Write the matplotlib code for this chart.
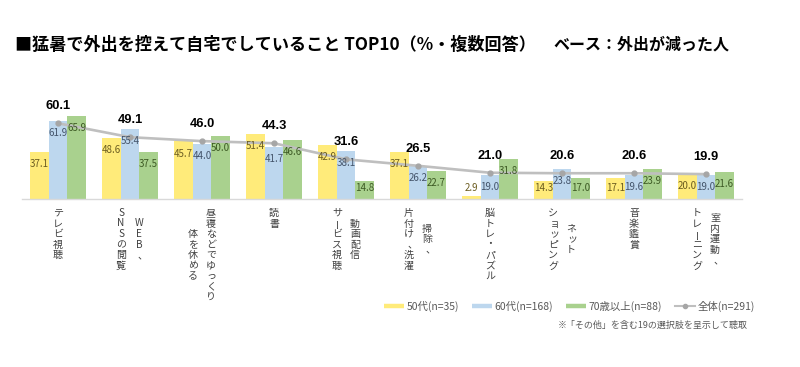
import numpy as np
import matplotlib
matplotlib.use("Agg")
import matplotlib.pyplot as plt
from matplotlib.lines import Line2D
from matplotlib.transforms import blended_transform_factory, offset_copy

plt.rcParams['font.family'] = ['Noto Sans CJK JP', 'DejaVu Sans']

# data (%)
categories = [
    ["テレビ視聴"],
    ["WEB、", "SNSの閲覧"],
    ["昼寝などでゆっくり", "体を休める"],
    ["読書"],
    ["動画配信", "サービス視聴"],
    ["掃除、", "片付け、洗濯"],
    ["脳トレ・パズル"],
    ["ネット", "ショッピング"],
    ["音楽鑑賞"],
    ["室内運動、", "トレーニング"],
]
age50 = [37.1, 48.6, 45.7, 51.4, 42.9, 37.1, 2.9, 14.3, 17.1, 20.0]
age60 = [61.9, 55.4, 44.0, 41.7, 38.1, 26.2, 19.0, 23.8, 19.6, 19.0]
age70 = [65.9, 37.5, 50.0, 46.6, 14.8, 22.7, 31.8, 17.0, 23.9, 21.6]
total = [60.1, 49.1, 46.0, 44.3, 31.6, 26.5, 21.0, 20.6, 20.6, 19.9]
series_names = ["50代(n=35)", "60代(n=168)", "70歳以上(n=88)", "全体(n=291)"]

bar_colors = ['#FFEB7A', '#BDD7EE', '#A9D18E']
label_colors = ['#6B5C20', '#44546A', '#3D5A24']
line_color = '#BFBFBF'

fig = plt.figure(figsize=(8, 3.67), dpi=100)
fig.patch.set_facecolor('white')
ax = fig.add_axes([22 / 800, (367 - 199.3) / 367, 0.9, 88.55 / 367])

x = np.arange(len(categories))
w = 0.257
for k, vals in enumerate([age50, age60, age70]):
    xs = x + (k - 1) * w
    ax.bar(xs, vals, width=w, color=bar_colors[k], edgecolor='none', zorder=2)
    for xi, v in zip(xs, vals):
        ax.text(xi, max(v - 9.5, 8.7), f"{v:.1f}", ha='center', va='center',
                fontsize=7, color=label_colors[k], zorder=4)

ax.plot(x, total, color=line_color, lw=1.9, marker='o', ms=3.5,
        mfc='#A6A6A6', mec='#A6A6A6', zorder=3)
for xi, v in zip(x, total):
    ax.text(xi, v + 13.4, f"{v:.1f}", ha='center', va='center', fontsize=9.3,
            fontweight='bold', family='Liberation Sans', color='black')

ax.set_xlim(-0.5, len(categories) - 0.5)
ax.set_ylim(0, 70)
for s in ['top', 'right', 'left']:
    ax.spines[s].set_visible(False)
ax.spines['bottom'].set_color('#D9D9D9')
ax.spines['bottom'].set_linewidth(1.0)
ax.set_xticks([])
ax.set_yticks([])

# vertical (tategaki) category labels, columns right to left
base = blended_transform_factory(ax.transData, ax.transAxes)
pitch = 10.5
col_gap = 18
for xi, cols in zip(x, categories):
    n = max(len(c) for c in cols)
    ncol = len(cols)
    for j, col in enumerate(cols):
        dx = (ncol - 1) / 2 * col_gap - j * col_gap
        start = 13.7 + (n - len(col)) * pitch / 2
        for i, ch in enumerate(col):
            dy = start + i * pitch
            ex, ey, rot = 0, 0, 0
            if ch == 'ー':
                rot = 90
            elif ch == '、':
                ex = 3
            elif ch in 'ッョャュ':
                ex = 1.5
            tr = offset_copy(base, fig=fig, x=dx + ex, y=-dy + ey, units='dots')
            ax.text(xi, 0, ch, transform=tr, ha='center', va='center',
                    fontsize=7.2, color='#404040', rotation=rot)

# title
fig.text(15 / 800, 1 - 45 / 367, "■猛暑で外出を控えて自宅でしていること TOP10（%・複数回答）",
         fontsize=12.3, fontweight='bold', ha='left', va='center')
fig.text(553 / 800, 1 - 45 / 367, "ベース：外出が減った人",
         fontsize=11.5, fontweight='bold', ha='left', va='center')

# legend
handles = [Line2D([0], [0], color=c, lw=3.2, solid_capstyle='butt') for c in bar_colors]
handles.append(Line2D([0], [0], color=line_color, lw=1.5, marker='o', ms=3,
                      mfc='#A6A6A6', mec='#A6A6A6'))
fig.legend(handles, series_names, loc='center right',
           bbox_to_anchor=(755 / 800, 1 - 306 / 367), ncol=4, frameon=False,
           fontsize=7.5, labelcolor='#595959', handlelength=1.9,
           handletextpad=0.3, columnspacing=1.2, borderpad=0, borderaxespad=0)

fig.text(748 / 800, 1 - 325 / 367, "※「その他」を含む19の選択肢を呈示して聴取",
         fontsize=6.5, color='#595959', ha='right', va='center')

fig.savefig("out.png", dpi=100)
